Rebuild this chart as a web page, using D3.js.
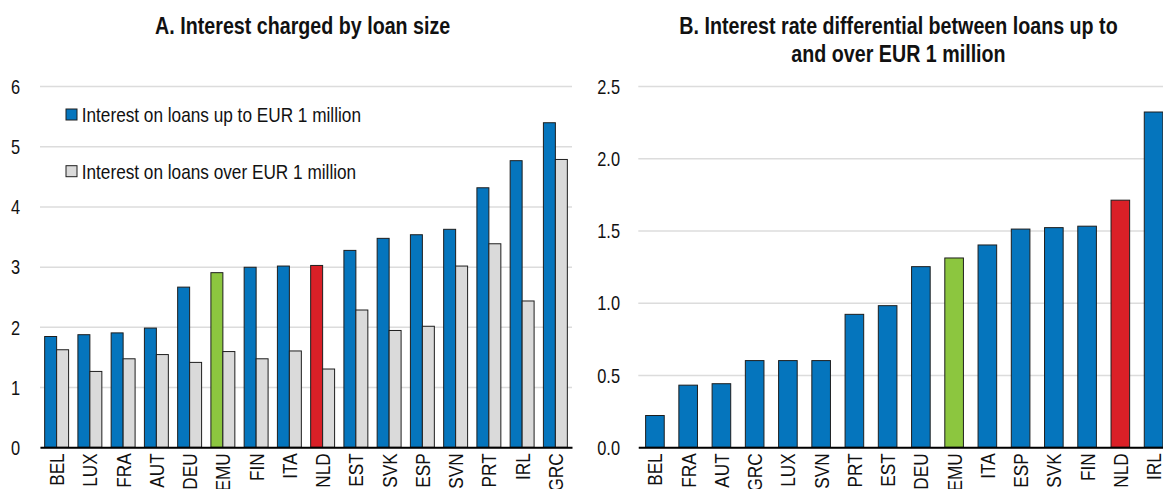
<!DOCTYPE html>
<html>
<head>
<meta charset="utf-8">
<script src="https://cdn.jsdelivr.net/npm/d3@7"></script>
<style>
  html, body { margin: 0; padding: 0; background: #ffffff; }
  svg { display: block; font-family: "Liberation Sans Narrow", "Arial Narrow", "Liberation Sans", Arial, sans-serif; }
</style>
</head>
<body>
<script>
// ---------- Data ----------
const categoriesA = ["BEL","LUX","FRA","AUT","DEU","EMU","FIN","ITA","NLD","EST","SVK","ESP","SVN","PRT","IRL","GRC"];
const interestUpTo1m = [1.84,1.87,1.90,1.98,2.66,2.90,2.99,3.01,3.02,3.27,3.47,3.53,3.62,4.31,4.76,5.39];
const interestOver1m = [1.62,1.26,1.47,1.54,1.41,1.59,1.47,1.60,1.30,2.28,1.94,2.01,3.01,3.38,2.43,4.78];
const ticksA = [0,1,2,3,4,5,6];

const categoriesB = ["BEL","FRA","AUT","GRC","LUX","SVN","PRT","EST","DEU","EMU","ITA","ESP","SVK","FIN","NLD","IRL"];
const differential = [0.22,0.43,0.44,0.60,0.60,0.60,0.92,0.98,1.25,1.31,1.40,1.51,1.52,1.53,1.71,2.32];
const ticksB = [0,0.5,1.0,1.5,2.0,2.5];

const titleA = "A. Interest charged by loan size";
const titleB = ["B. Interest rate differential between loans up to", "and over EUR 1 million"];
const legendLabels = ["Interest on loans up to EUR 1 million", "Interest on loans over EUR 1 million"];

// ---------- Styles ----------
const BLUE = "#0575BD", GREY = "#DADADA", GREEN = "#8CC63F", RED = "#DA2027";
const GRID = "#DCDCDC", BAR_STROKE = "#1e1e1e";
const highlight = c => c === "EMU" ? GREEN : (c === "NLD" ? RED : BLUE);
// Narrow-font emulation (Arial Narrow = Arial widths x 0.82)
const NARROW = 0.82;

const W = 1163, H = 489;
const svg = d3.select("body").append("svg").attr("width", W).attr("height", H);

const y0 = 447.3, yTop = 86;

function styleLeftAxis(ax, pad) {
  ax.select(".domain").remove();
  ax.selectAll(".tick line").attr("stroke", GRID).attr("stroke-width", 1.5);
  ax.selectAll(".tick text").attr("font-size", 20).attr("fill", "#111").attr("font-family", null)
    .attr("transform", `scale(${NARROW},1)`).attr("x", -pad / NARROW).attr("dy", "0.36em");
}
function styleBottomAxis(ax) {
  ax.select(".domain").attr("stroke", "#000").attr("stroke-width", 2);
  ax.selectAll(".tick text").attr("font-size", 21).attr("fill", "#111").attr("font-family", null)
    .attr("transform", `rotate(-90) scale(${NARROW},1)`).attr("text-anchor", "end")
    .attr("x", -6 / NARROW).attr("y", 0).attr("dy", "0.36em");
}
function narrowText(g, x, y, str, size, bold, anchor) {
  g.append("text").attr("transform", `translate(${x},${y}) scale(${NARROW},1)`)
    .attr("text-anchor", anchor).attr("font-size", size)
    .attr("font-weight", bold ? "bold" : "normal").attr("fill", "#111").text(str);
}

// ---------- Panel A ----------
const A = { left: 40, right: 572 };
const xA = d3.scaleBand().domain(categoriesA).range([A.left, A.right]).paddingInner(0.28).paddingOuter(0.14);
const subA = d3.scaleBand().domain(["up","over"]).range([0, xA.bandwidth()]);
const yA = d3.scaleLinear().domain([0, 6]).range([y0, yTop]);

const gA = svg.append("g");
const axA = gA.append("g").attr("transform", `translate(${A.left},0)`)
  .call(d3.axisLeft(yA).tickValues(ticksA).tickSize(-(A.right - A.left)).tickPadding(20).tickFormat(d3.format("d")));
styleLeftAxis(axA, 20);

const dataA = categoriesA.map((c, i) => ({ c, up: interestUpTo1m[i], over: interestOver1m[i] }));
gA.append("g").selectAll("rect").data(dataA).join("rect")
  .attr("x", d => xA(d.c) + subA("up")).attr("width", subA.bandwidth())
  .attr("y", d => yA(d.up)).attr("height", d => yA(0) - yA(d.up))
  .attr("fill", d => highlight(d.c)).attr("stroke", BAR_STROKE).attr("stroke-width", 1);
gA.append("g").selectAll("rect").data(dataA).join("rect")
  .attr("x", d => xA(d.c) + subA("over")).attr("width", subA.bandwidth())
  .attr("y", d => yA(d.over)).attr("height", d => yA(0) - yA(d.over))
  .attr("fill", GREY).attr("stroke", BAR_STROKE).attr("stroke-width", 1);

const bxA = gA.append("g").attr("transform", `translate(0,${y0})`)
  .call(d3.axisBottom(xA).tickSize(0).tickSizeOuter(0));
styleBottomAxis(bxA);

narrowText(gA, 302.7, 34, titleA, 24, true, "middle");

// legend
const legCol = [BLUE, GREY];
const legY = [114.5, 171.2];
legendLabels.forEach((t, i) => {
  gA.append("rect").attr("x", 66).attr("y", legY[i] - 5.5).attr("width", 11).attr("height", 11)
    .attr("fill", legCol[i]).attr("stroke", BAR_STROKE).attr("stroke-width", 1);
  narrowText(gA, 81.7, legY[i] + 7.5, t, 21, false, "start");
});

// ---------- Panel B ----------
const B = { left: 638.3, right: 1170.2 };
const xB = d3.scaleBand().domain(categoriesB).range([B.left, B.right]).paddingInner(0.44).paddingOuter(0.22);
const yB = d3.scaleLinear().domain([0, 2.5]).range([y0, yTop]);

const gB = svg.append("g");
const axB = gB.append("g").attr("transform", `translate(${B.left},0)`)
  .call(d3.axisLeft(yB).tickValues(ticksB).tickSize(-(B.right - B.left)).tickPadding(18.3).tickFormat(d3.format(".1f")));
styleLeftAxis(axB, 18.3);

const dataB = categoriesB.map((c, i) => ({ c, v: differential[i] }));
gB.append("g").selectAll("rect").data(dataB).join("rect")
  .attr("x", d => xB(d.c)).attr("width", xB.bandwidth())
  .attr("y", d => yB(d.v)).attr("height", d => yB(0) - yB(d.v))
  .attr("fill", d => highlight(d.c)).attr("stroke", BAR_STROKE).attr("stroke-width", 1);

const bxB = gB.append("g").attr("transform", `translate(0,${y0})`)
  .call(d3.axisBottom(xB).tickSize(0).tickSizeOuter(0));
styleBottomAxis(bxB);

titleB.forEach((t, i) => narrowText(gB, 898.5, 34 + i * 28, t, 24, true, "middle"));
</script>
</body>
</html>
